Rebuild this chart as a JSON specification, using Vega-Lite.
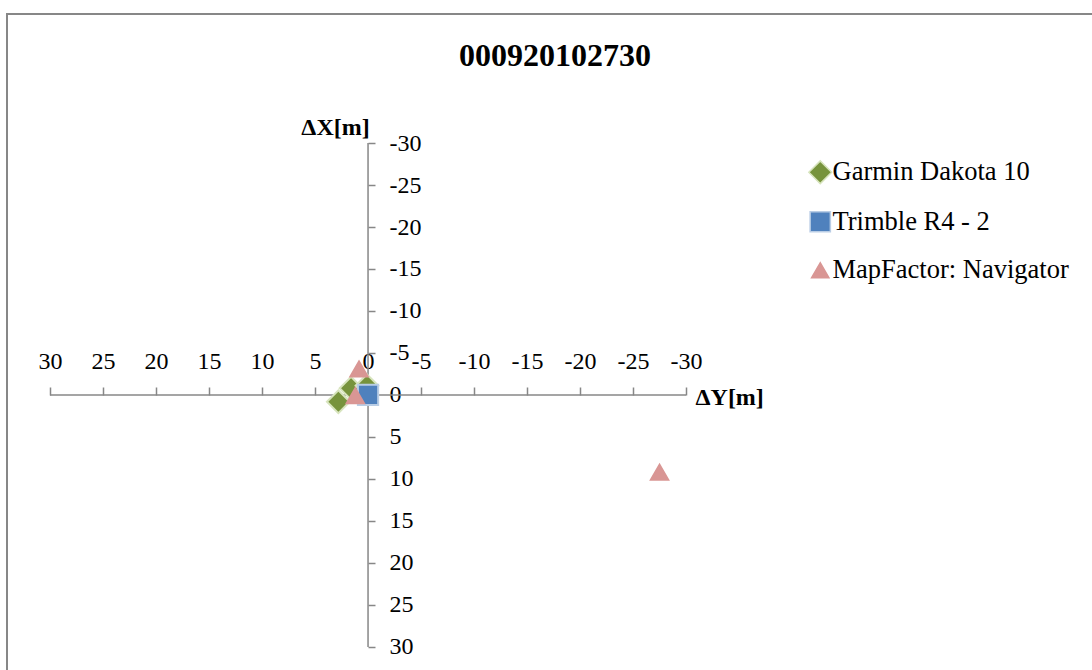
{
  "$schema": "https://vega.github.io/schema/vega-lite/v6.json",
  "width": 1088,
  "height": 659,
  "autosize": {"type": "none"},
  "padding": {"left": 7, "top": 14, "right": 0, "bottom": 0},
  "background": "white",
  "config": {"font": "Liberation Serif", "view": {"stroke": "#878787", "strokeWidth": 2}},
  "title": {"text": "000920102730", "fontSize": 32, "fontWeight": "bold", "font": "Liberation Serif", "anchor": "middle", "frame": "group", "offset": -84, "baseline": "alphabetic", "dx": 4, "color": "black"},
  "layer": [
    {
      "data": {"values": [
        {"dy": 0, "dx": -30, "dy2": 0, "dx2": 30},
        {"dy": 30, "dx": 0, "dy2": -30, "dx2": 0}
      ]},
      "mark": {"type": "rule", "color": "#878787", "strokeWidth": 1.5},
      "encoding": {
        "x": {"field": "dy", "type": "quantitative", "scale": {"domain": [34.06, -68.58], "nice": false, "zero": false}},
        "y": {"field": "dx", "type": "quantitative", "scale": {"domain": [-45.36, 33.1], "reverse": true, "nice": false, "zero": false}},
        "x2": {"field": "dy2"},
        "y2": {"field": "dx2"}
      }
    },
    {
      "data": {"values": [
        {"series": "Garmin Dakota 10", "dy": 2.8, "dx": 0.8},
        {"series": "Garmin Dakota 10", "dy": 1.6, "dx": -0.8},
        {"series": "Garmin Dakota 10", "dy": 0.1, "dx": -1.1},
        {"series": "Trimble R4 - 2", "dy": 0, "dx": 0},
        {"series": "MapFactor: Navigator", "dy": 0.85, "dx": -3.1},
        {"series": "MapFactor: Navigator", "dy": 1.2, "dx": 0.1},
        {"series": "MapFactor: Navigator", "dy": -27.5, "dx": 9.2}
      ]},
      "mark": {"type": "point", "filled": true, "opacity": 1, "strokeWidth": 2},
      "encoding": {
        "x": {
          "field": "dy", "type": "quantitative",
          "scale": {"domain": [34.06, -68.58], "nice": false, "zero": false},
          "axis": {
            "orient": "top", "offset": -381,
            "values": [30, 25, 20, 15, 10, 5, 0, -5, -10, -15, -20, -25, -30],
            "domain": false, "grid": false, "ticks": true, "tickSize": 8, "tickColor": "#878787", "tickWidth": 1.5,
            "labelPadding": 14, "labelFontSize": 24, "labelFont": "Liberation Serif", "labelColor": "black",
            "labelExpr": "'' + datum.value", "labelOverlap": false, "labelFlush": false, "labelBound": false,
            "title": "ΔY[m]", "titleFont": "Liberation Serif", "titleFontSize": 24, "titleFontWeight": "bold", "titleColor": "black",
            "titleX": 688, "titleY": 2, "titleAlign": "left", "titleBaseline": "middle", "titleAngle": 0
          }
        },
        "y": {
          "field": "dx", "type": "quantitative",
          "scale": {"domain": [-45.36, 33.1], "reverse": true, "nice": false, "zero": false},
          "axis": {
            "orient": "right", "offset": -727,
            "values": [-30, -25, -20, -15, -10, -5, 0, 5, 10, 15, 20, 25, 30],
            "domain": false, "grid": false, "ticks": true, "tickSize": 7, "tickColor": "#878787", "tickWidth": 1.5,
            "labelPadding": 14, "labelFontSize": 24, "labelFont": "Liberation Serif", "labelColor": "black", "labelAlign": "left",
            "labelExpr": "'' + datum.value", "labelOverlap": false, "labelFlush": false, "labelBound": false,
            "title": "ΔX[m]", "titleFont": "Liberation Serif", "titleFontSize": 24, "titleFontWeight": "bold", "titleColor": "black",
            "titleX": -33, "titleY": 113, "titleAlign": "center", "titleBaseline": "middle", "titleAngle": 0
          }
        },
        "color": {
          "field": "series", "type": "nominal",
          "scale": {"domain": ["Garmin Dakota 10", "Trimble R4 - 2", "MapFactor: Navigator"], "range": ["#77933C", "#4F81BD", "#D99694"]},
          "legend": {"orient": "none", "legendX": 800, "legendY": 145, "title": null, "labelFontSize": 26.5, "labelFont": "Liberation Serif", "labelColor": "black", "labelLimit": 400, "symbolSize": 280, "symbolStrokeWidth": 1.5, "rowPadding": 21.5, "labelOffset": -1}
        },
        "stroke": {
          "field": "series", "type": "nominal",
          "scale": {"domain": ["Garmin Dakota 10", "Trimble R4 - 2", "MapFactor: Navigator"], "range": ["#D7E4BD", "#B9CDE5", "#D99694"]},
          "legend": {"orient": "none", "legendX": 800, "legendY": 145, "title": null, "labelFontSize": 26.5, "labelFont": "Liberation Serif", "labelColor": "black", "labelLimit": 400, "symbolSize": 280, "symbolStrokeWidth": 1.5, "rowPadding": 21.5, "labelOffset": -1}
        },
        "shape": {
          "field": "series", "type": "nominal",
          "scale": {"domain": ["Garmin Dakota 10", "Trimble R4 - 2", "MapFactor: Navigator"], "range": ["diamond", "square", "triangle-up"]},
          "legend": {"orient": "none", "legendX": 800, "legendY": 145, "title": null, "labelFontSize": 26.5, "labelFont": "Liberation Serif", "labelColor": "black", "labelLimit": 400, "symbolSize": 280, "symbolStrokeWidth": 1.5, "rowPadding": 21.5, "labelOffset": -1}
        },
        "size": {
          "field": "series", "type": "nominal",
          "scale": {"domain": ["Garmin Dakota 10", "Trimble R4 - 2", "MapFactor: Navigator"], "range": [520, 300, 250]},
          "legend": null
        }
      }
    }
  ]
}
